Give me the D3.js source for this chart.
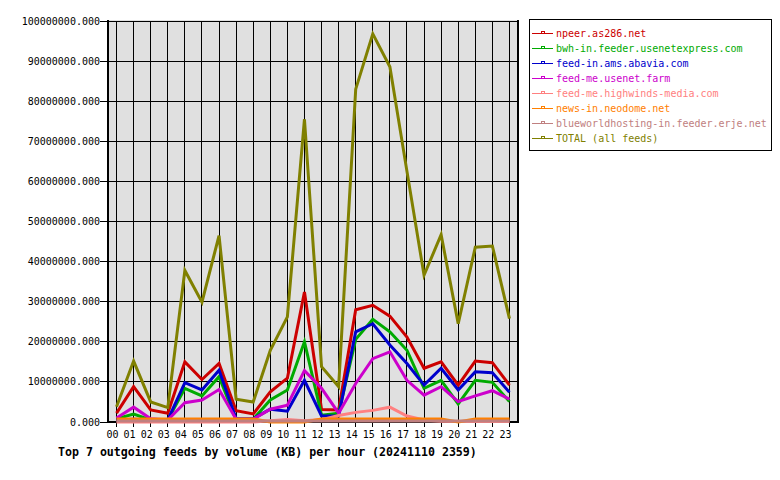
<!DOCTYPE html>
<html>
<head>
<meta charset="utf-8">
<script src="https://cdn.jsdelivr.net/npm/d3@7"></script>
<style>
  body { margin: 0; background: #fff; }
  text { font-family: "DejaVu Sans Mono", monospace; }
</style>
</head>
<body>
<div class="chart"></div>
<script>
// hours of the day
const hours = ["00","01","02","03","04","05","06","07","08","09","10","11",
               "12","13","14","15","16","17","18","19","20","21","22","23"];

// series names (legend order)
const feedNames = [
  "npeer.as286.net",
  "bwh-in.feeder.usenetexpress.com",
  "feed-in.ams.abavia.com",
  "feed-me.usenet.farm",
  "feed-me.highwinds-media.com",
  "news-in.neodome.net",
  "blueworldhosting-in.feeder.erje.net",
  "TOTAL (all feeds)"
];
const feedColors = ["#cc0000", "#00aa00", "#0000cc", "#cc00cc", "#ff8080", "#ff8000", "#c08080", "#808000"];

// KB per hour
const npeer = [2200000, 8800000, 3000000, 2200000, 15000000, 10600000, 14600000, 2800000, 2000000, 7500000, 10900000, 32400000,
               3100000, 3000000, 28000000, 29100000, 26400000, 21200000, 13400000, 15000000, 9200000, 15200000, 14800000, 9200000];
const bwh = [800000, 2000000, 500000, 500000, 8400000, 6500000, 11300000, 500000, 700000, 5500000, 8000000, 20000000,
             1700000, 2200000, 20600000, 25600000, 22500000, 17900000, 8400000, 10400000, 4500000, 10400000, 9900000, 5100000];
const abavia = [500000, 700000, 500000, 500000, 9800000, 8000000, 12900000, 800000, 800000, 3200000, 2700000, 10400000,
                1500000, 1500000, 22500000, 24500000, 19200000, 14600000, 9200000, 13400000, 8000000, 12500000, 12300000, 7400000];
const usenetFarm = [1000000, 3700000, 800000, 500000, 4800000, 5500000, 8100000, 700000, 700000, 3200000, 4200000, 12800000,
                    8400000, 2200000, 9600000, 15800000, 17500000, 10400000, 6700000, 8800000, 5100000, 6500000, 7800000, 5700000];
const highwinds = [0, 0, 0, 0, 0, 0, 0, 0, 0, 300000, 600000, 300000,
                   600000, 1600000, 2400000, 2900000, 3700000, 1500000, 500000, 200000, 100000, 100000, 100000, 100000];
const neodome = [750000, 750000, 750000, 750000, 750000, 750000, 750000, 750000, 750000, 0, 0, 0,
                 750000, 750000, 750000, 750000, 750000, 750000, 750000, 750000, 0, 750000, 750000, 750000];
const blueworld = [250000, 250000, 250000, 250000, 250000, 250000, 250000, 250000, 250000, 250000, 250000, 250000,
                   250000, 250000, 250000, 250000, 250000, 250000, 250000, 250000, 250000, 250000, 250000, 250000];
const total = [3800000, 15200000, 5000000, 3600000, 37800000, 29900000, 46500000, 5700000, 5000000, 17900000, 26200000, 75500000,
               13800000, 8800000, 83000000, 96800000, 88600000, 62500000, 36600000, 46700000, 24500000, 43600000, 43900000, 25800000];

const yTicks = [0, 10000000, 20000000, 30000000, 40000000, 50000000, 60000000, 70000000, 80000000, 90000000, 100000000];
const chartTitle = "Top 7 outgoing feeds by volume (KB) per hour (20241110 2359)";

const seriesValues = [npeer, bwh, abavia, usenetFarm, highwinds, neodome, blueworld, total];

// plot box
const plot = { left: 108, right: 518, top: 21, bottom: 422 };

const svg = d3.select(".chart")
  .append("svg")
  .attr("width", 780)
  .attr("height", 480);

const x = d3.scalePoint(hours, [plot.left, plot.right]).padding(0.5);
const y = d3.scaleLinear().domain([0, 100000000]).range([plot.bottom, plot.top]);

// grey background
svg.append("rect")
  .attr("x", plot.left)
  .attr("y", plot.top - 1)
  .attr("width", plot.right - plot.left)
  .attr("height", plot.bottom - plot.top + 1)
  .attr("fill", "#e0e0e0");

// grid lines
const grid = svg.append("g").attr("stroke", "#000").attr("stroke-width", 1).attr("shape-rendering", "crispEdges");
grid.selectAll("line.v")
  .data(hours)
  .join("line")
  .attr("class", "v")
  .attr("x1", (d) => x(d)).attr("x2", (d) => x(d))
  .attr("y1", plot.top).attr("y2", plot.bottom + 5);
grid.selectAll("line.h")
  .data(yTicks)
  .join("line")
  .attr("class", "h")
  .attr("x1", plot.left - 8).attr("x2", plot.right)
  .attr("y1", (d) => y(d)).attr("y2", (d) => y(d));

// frame
svg.append("line")
  .attr("x1", plot.left).attr("x2", plot.left)
  .attr("y1", plot.top - 1).attr("y2", plot.bottom + 1)
  .attr("stroke", "#000").attr("stroke-width", 2).attr("shape-rendering", "crispEdges");
svg.append("line")
  .attr("x1", plot.left).attr("x2", plot.right + 1)
  .attr("y1", plot.bottom).attr("y2", plot.bottom)
  .attr("stroke", "#000").attr("stroke-width", 2).attr("shape-rendering", "crispEdges");
svg.append("line")
  .attr("x1", plot.right).attr("x2", plot.right)
  .attr("y1", plot.top - 1).attr("y2", plot.bottom)
  .attr("stroke", "#000").attr("stroke-width", 2).attr("shape-rendering", "crispEdges");

// y labels
svg.append("g")
  .selectAll("text")
  .data(yTicks)
  .join("text")
  .attr("x", plot.left - 8)
  .attr("y", (d) => y(d))
  .attr("dy", "0.35em")
  .attr("text-anchor", "end")
  .style("font-size", "10px")
  .text((d) => d3.format(".3f")(d));

// x labels
svg.append("g")
  .selectAll("text")
  .data(hours)
  .join("text")
  .attr("x", (d) => x(d) - 4)
  .attr("y", 438)
  .attr("text-anchor", "middle")
  .style("font-size", "10px")
  .text((d) => d);

// title
svg.append("text")
  .attr("x", 58)
  .attr("y", 456)
  .style("font-size", "11.6px")
  .style("font-weight", "bold")
  .text(chartTitle);

// lines
const line = d3.line()
  .x((d, i) => x(hours[i]))
  .y((d) => y(d));

svg.append("g")
  .selectAll("path")
  .data(seriesValues)
  .join("path")
  .attr("fill", "none")
  .attr("stroke", (d, i) => feedColors[i])
  .attr("stroke-width", 3)
  .attr("stroke-linejoin", "miter")
  .attr("d", line);

// legend
const legendBox = { x: 529, y: 19, w: 242, h: 131 };
svg.append("rect")
  .attr("x", legendBox.x + 0.5)
  .attr("y", legendBox.y + 0.5)
  .attr("width", legendBox.w)
  .attr("height", legendBox.h)
  .attr("fill", "#fff")
  .attr("stroke", "#000");

const legend = svg.selectAll(".legend")
  .data(feedNames)
  .join("g")
  .attr("class", "legend")
  .attr("transform", (d, i) => `translate(${legendBox.x + 3}, ${legendBox.y + 14 + i * 15})`);

legend.append("line")
  .attr("x1", 0).attr("x2", 21)
  .attr("y1", 0.5).attr("y2", 0.5)
  .attr("stroke", (d, i) => feedColors[i])
  .attr("stroke-width", 1);
legend.append("rect")
  .attr("x", 9.5).attr("y", -1.5)
  .attr("width", 3).attr("height", 2)
  .attr("fill", "#fff")
  .attr("stroke", (d, i) => feedColors[i])
  .attr("stroke-width", 1);
legend.append("text")
  .attr("x", 24)
  .attr("y", 0)
  .attr("dy", "0.35em")
  .attr("fill", (d, i) => feedColors[i])
  .style("font-size", "10px")
  .text((d) => d);
</script>
</body>
</html>
